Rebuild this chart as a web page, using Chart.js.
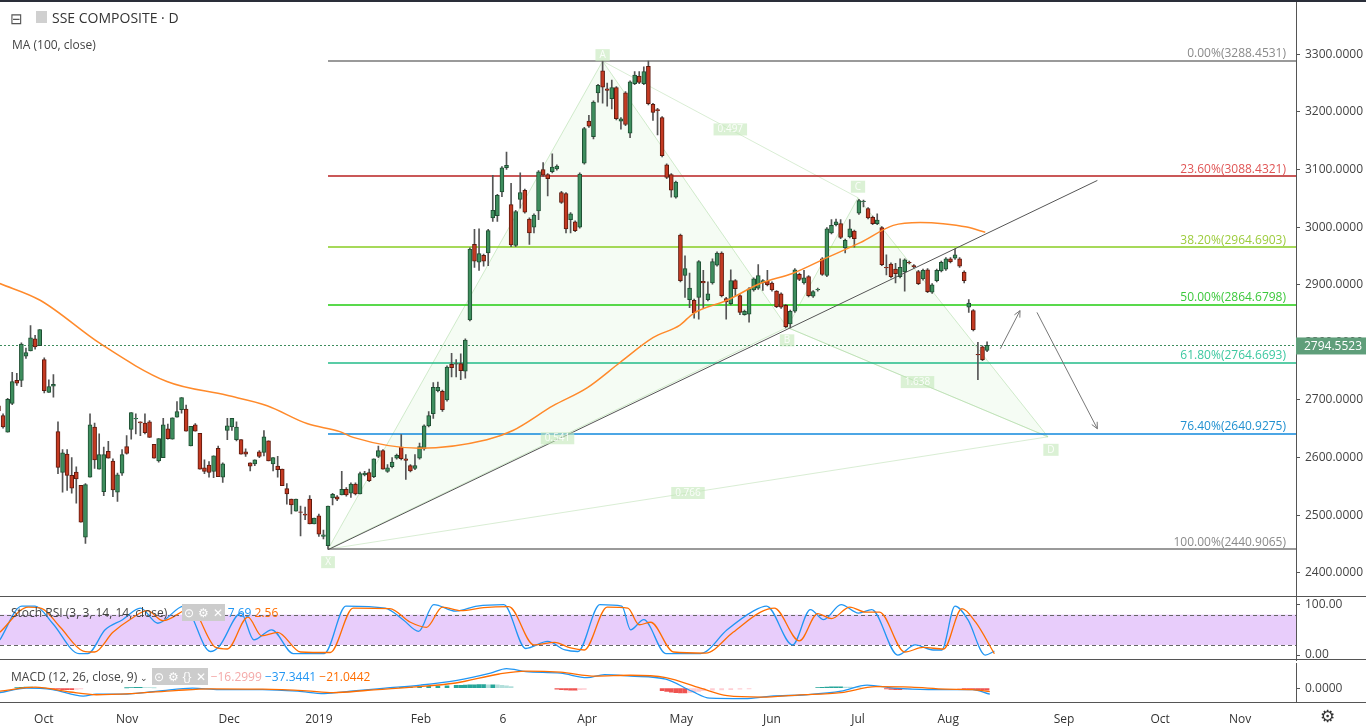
<!DOCTYPE html>
<html><head><meta charset="utf-8">
<script src="https://cdn.jsdelivr.net/npm/chart.js@4.4.1/dist/chart.umd.min.js"></script>
<style>
body{margin:0;background:#fff;overflow:hidden;font-family:"Open Sans",Lato,sans-serif}
#wrap{position:relative;width:1366px;height:726px;overflow:hidden}
canvas{position:absolute;left:0}
.t{position:absolute;white-space:nowrap;color:#333}
.hl{position:absolute;left:0;width:1366px;height:1px;background:#555}
</style></head><body><div id="wrap">
<canvas id="main" width="1366" height="622" style="top:-12px"></canvas>
<canvas id="stoch" width="1366" height="87" style="top:586px"></canvas>
<canvas id="macd" width="1366" height="75" style="top:651px"></canvas>
<div class="hl" style="top:0;height:2px;background:#2a2e39"></div>
<div class="hl" style="top:596px"></div>
<div class="hl" style="top:659px"></div>
<div class="hl" style="top:702px"></div>
<div class="t" style="left:10px;top:8px;font-size:15px;color:#555">⊟</div>
<div class="t" style="left:36px;top:11px;width:11px;height:12px;background:#d0d0d0"></div>
<div class="t" style="left:52px;top:8px;font-size:14px;color:#333">SSE COMPOSITE · D</div>
<div class="t" style="left:12px;top:36px;font-size:12px;color:#444">MA (100, close)</div>
<div class="t" style="left:11px;top:604px;font-size:12px;color:#444">Stoch RSI (3, 3, 14, 14, close) <span style="font-size:9px">⌄</span> <span style="background:#ccc;color:#fff;padding:0 2px">⊙</span><span style="background:#ccc;color:#fff;padding:0 2px">⚙</span><span style="background:#ccc;color:#fff;padding:0 2px">✕</span> <span style="color:#2196f3">7.69</span> <span style="color:#ff6d00">2.56</span></div>
<div class="t" style="left:11px;top:668px;font-size:12px;color:#444">MACD (12, 26, close, 9) <span style="font-size:9px">⌄</span> <span style="background:#ccc;color:#fff;padding:0 2px">⊙</span><span style="background:#ccc;color:#fff;padding:0 2px">⚙</span><span style="background:#ccc;color:#fff;padding:0 2px">{}</span><span style="background:#ccc;color:#fff;padding:0 2px">✕</span> <span style="color:#f4a9a8">−16.2999</span> <span style="color:#2196f3">−37.3441</span> <span style="color:#ff6d00">−21.0442</span></div>
<div class="t" style="left:1320px;top:704px;font-size:17px;color:#333">⚙</div>
</div>
<script>
// ---- candles (open, close, high, low) ----
const opens=[2690,2673,2644,2694,2734,2734,2776,2785,2806,2794,2770,2713,2724,2645,2574,2606,2569,2575,2552,2462,2566,2653,2580,2541,2611,2594,2540,2573,2619,2649,2667,2662,2660,2662,2623,2594,2600,2650,2632,2670,2683,2684,2620,2657,2642,2582,2587,2576,2616,2566,2647,2653,2631,2631,2610,2591,2589,2610,2609,2629,2589,2585,2580,2546,2528,2507,2506,2502,2528,2485,2499,2463,2447,2530,2532,2535,2545,2538,2554,2537,2570,2574,2567,2602,2612,2576,2584,2599,2618,2598,2586,2581,2599,2615,2655,2676,2716,2715,2700,2762,2762,2763,2750,2839,2970,2939,2951,2955,3016,3020,3061,3103,3039,2968,3048,3064,3014,3000,3028,3100,3091,3096,3101,3060,3058,3013,3009,3000,3111,3184,3157,3233,3271,3240,3223,3242,3184,3233,3163,3249,3262,3249,3279,3213,3204,3190,3108,3091,3052,2986,2916,2874,2873,2878,2906,2874,2903,2934,2955,2876,2867,2907,2881,2848,2849,2891,2894,2903,2906,2903,2889,2884,2864,2832,2854,2918,2903,2914,2880,2891,2945,2916,2990,3004,3006,2964,2983,2993,3024,3044,3032,3017,3006,2999,2930,2936,2927,2914,2922,2939,2933,2923,2910,2926,2887,2907,2924,2927,2945,2946,2945,2922,2861,2855,2779,2792,2786];
const closes=[2681,2653,2701,2732,2729,2797,2782,2808,2792,2822,2716,2723,2727,2583,2608,2569,2547,2563,2488,2553,2657,2596,2605,2605,2599,2544,2570,2605,2607,2678,2668,2660,2643,2635,2599,2633,2657,2633,2669,2680,2704,2646,2654,2646,2580,2576,2574,2603,2567,2589,2655,2668,2653,2606,2606,2585,2596,2602,2636,2594,2600,2579,2551,2537,2518,2528,2505,2500,2485,2495,2467,2466,2516,2536,2528,2545,2535,2554,2537,2572,2573,2560,2598,2612,2580,2582,2592,2604,2598,2595,2577,2586,2619,2655,2673,2722,2722,2683,2757,2756,2763,2751,2804,2962,2941,2954,2941,2994,3029,3055,3103,3107,2969,3027,3060,3026,2990,3021,3096,3090,3084,3104,3106,3043,2997,3023,2994,3092,3171,3175,3217,3246,3243,3237,3242,3188,3188,3178,3252,3264,3251,3270,3214,3199,3202,3124,3086,3064,3078,2907,2928,2894,2851,2940,2903,2884,2940,2955,2881,2870,2907,2893,2852,2854,2893,2910,2916,2907,2900,2891,2862,2861,2827,2854,2926,2909,2912,2881,2888,2892,2918,2997,3003,3009,2982,2977,2997,2980,3046,3045,3016,3006,3012,2935,2929,2914,2919,2930,2943,2938,2931,2902,2925,2888,2900,2925,2939,2945,2940,2952,2932,2907,2868,2822,2778,2770,2795];
const highs=[2693,2676,2703,2748,2746,2799,2790,2829,2812,2822,2773,2735,2744,2662,2614,2614,2600,2584,2552,2555,2676,2660,2641,2618,2628,2598,2573,2614,2638,2678,2676,2662,2676,2664,2623,2633,2668,2658,2669,2697,2704,2691,2654,2659,2642,2596,2593,2603,2620,2591,2668,2668,2662,2631,2615,2591,2596,2612,2647,2629,2600,2602,2580,2555,2528,2528,2516,2514,2534,2495,2502,2474,2516,2538,2534,2576,2548,2556,2556,2575,2576,2580,2598,2620,2614,2588,2600,2606,2640,2605,2588,2605,2625,2657,2680,2730,2731,2717,2759,2781,2770,2780,2806,2964,2996,2997,2953,2996,3090,3057,3105,3130,3076,3029,3094,3066,3016,3023,3098,3112,3093,3127,3108,3062,3060,3025,3011,3094,3173,3194,3219,3248,3288,3250,3255,3244,3190,3235,3254,3270,3270,3278,3288,3215,3206,3192,3110,3093,3080,2988,2950,2920,2875,2942,2925,2905,2945,2957,2957,2878,2926,2909,2883,2856,2895,2912,2935,2909,2925,2905,2890,2886,2866,2856,2928,2920,2925,2916,2890,2894,2947,2999,3013,3014,3013,2979,3013,2995,3048,3047,3034,3019,3023,3001,2952,2938,2937,2945,2945,2941,2935,2925,2927,2928,2902,2927,2941,2947,2947,2962,2947,2924,2874,2857,2800,2794,2801];
const lows=[2679,2651,2644,2692,2725,2723,2772,2785,2788,2794,2712,2713,2705,2572,2540,2543,2538,2521,2488,2451,2566,2581,2580,2534,2599,2532,2524,2569,2606,2632,2641,2638,2641,2635,2599,2592,2600,2632,2632,2670,2677,2646,2620,2646,2580,2572,2566,2565,2567,2557,2631,2647,2629,2606,2602,2577,2586,2600,2603,2594,2577,2566,2551,2519,2502,2507,2464,2492,2485,2485,2463,2459,2441,2518,2525,2535,2533,2531,2535,2537,2568,2558,2565,2600,2580,2574,2582,2597,2596,2562,2575,2579,2597,2613,2653,2668,2714,2680,2698,2740,2740,2735,2738,2837,2930,2925,2932,2933,3010,3010,3053,3100,2966,2966,3033,3024,2970,2990,3013,3088,3054,3094,3099,3041,2990,2990,2992,2998,3109,3173,3153,3217,3215,3210,3205,3186,3170,3176,3155,3247,3249,3247,3212,3185,3160,3122,3084,3052,3050,2905,2878,2860,2842,2840,2860,2872,2901,2932,2879,2840,2865,2880,2848,2847,2835,2889,2892,2890,2898,2889,2860,2859,2825,2825,2852,2907,2901,2879,2878,2889,2916,2914,2988,3002,2980,2955,2981,2965,3022,3035,3014,3004,3004,2933,2917,2912,2903,2912,2889,2936,2929,2900,2908,2886,2885,2905,2922,2925,2938,2944,2930,2903,2852,2820,2735,2768,2784];
// ---- MA(100) ----
const maX=[0.3,9.1,22.2,36.8,49.9,58.7,67.4,74.6,77.5,92.1,106.7,112.4,121.2,128.6,135.8,143,148.9,151.8,159.2,166.4,173.6,181,188.3,195.5,201.4,206.4,211.6,215.6];
const maY=[2902,2873,2798,2732,2708,2690,2659,2645,2635,2616,2631,2647,2690,2721,2765,2808,2830,2850,2873,2902,2920,2947,2973,3003,3008,3006,3000,2991];
// ---- axis labels ----
const xTickIdx=[9.9,28.1,50.4,70.0,92.3,110.2,128.6,149.2,169.0,187.8,207.5,232.8,253.8,271.3];
const xTickLabels=["Oct","Nov","Dec","2019","Feb","6","Apr","May","Jun","Jul","Aug","Sep","Oct","Nov"];
const priceTicks=[2400,2500,2600,2700,2800,2900,3000,3100,3200,3300];
// ---- Fibonacci retracement ----
const fibPct=["0.00%","23.60%","38.20%","50.00%","61.80%","76.40%","100.00%"];
const fibVal=[3288.4531,3088.4321,2964.6903,2864.6798,2764.6693,2640.9275,2440.9065];
const fibLine=["#787878","#b82020","#88cc22","#22cc11","#22bb88","#1188dd","#787878"];
const fibText=["#8a8a8a","#e05555","#9ccc3c","#3cc83c","#3cc8a0","#2090d0","#8a8a8a"];
const fibStart=72;
const lastPrice=2794.5523;
// ---- XABCD pattern ----
const patNames=["X","A","B","C","D"];
const patIdx=[72,132,172.3,187.8,229.3];
const patPrice=[2441,3288,2826,3051,2636];
const patRatios=["0.541","0.497","1.638","0.766"];
// trend line and projection arrows
const trendIdx=[72,240.1], trendPrice=[2440,3081];
const arrows=[[218.9,2789,223.2,2855],[226.9,2852,240.1,2650]];
// ---- Stoch RSI ----
const kX=[0.3,5.1,8,11.8,17.6,19.5,23.3,27.1,31,34.8,40.5,46.3,48.2,53,55.8,59.7,64.4,71.2,75.9,84.5,88.4,91.8,95.1,99.9,104.6,110.4,115.2,120,123.8,126.6,131.4,136.2,138.1,141,145.8,153.4,159.2,164.9,167.8,173.5,177.4,180.3,184.1,187.9,190.8,196.5,200.3,204.2,206.1,209,211.8,215.6,217.6];
const kY=[30,97,97,63,3,3,50,70,93,63,97,7,17,83,30,50,3,3,97,93,70,47,100,87,97,100,13,27,10,7,100,97,50,70,3,3,50,87,97,20,90,70,100,83,90,0,20,10,10,97,70,0,7.69];
const dX=[0.3,6.5,9.5,13.5,18.5,21,25,29,32.5,36,42,47.5,50,54.5,57.5,61,66,72.5,77.5,85.5,90,93.5,97,101,106,111.5,117,121.5,125,128,133,137.5,140,142.5,147.5,154.5,160.5,166.5,169.5,175,179,182,186,189.5,192.5,198,202,206.5,210.5,213.5,217.6];
const dY=[45,95,92,55,8,6,45,72,88,68,92,15,12,75,38,45,6,5,93,92,65,55,95,88,94,96,20,25,14,10,95,93,60,65,6,4,45,85,93,28,82,72,95,85,85,6,15,12,92,65,2.56];
// ---- MACD ----
const mX=[0.3,6.1,11.8,18.5,21.4,27.1,34.8,42.4,48.2,57.7,65.4,71.2,76.9,84.5,92.2,99.9,107.5,111,115.2,122.8,128.6,132.4,138.1,145.8,151.5,155.4,163,168.8,176.4,184.1,189.8,195.6,203.2,209,212.8,216.6];
const mY=[-28,0,-9,-50,-37,-37,-19,0,-9,-9,-19,-34,-19,0,19,47,93,121,103,93,65,84,75,56,-19,-62,-65,-50,-41,-19,19,0,-9,-9,-9,-37];
const sX=[0.3,8,15.6,21.4,29,38.6,46.3,57.7,67.3,73.1,80.7,90.3,99.9,109.4,115.2,122.8,130.5,138.1,145.8,153.4,159.2,166.8,174.5,184.1,191.7,199.4,207,212.8,216.6];
const sY=[-19,6,-24,-41,-34,-15,-4,-6,-17,-28,-13,6,32,88,106,99,75,80,65,0,-47,-56,-43,-28,9,6,-6,-9,-21];
const hX=[4,5,6,7,8,9,10,11,12,13,14,15,16,17,18,28,29,30,31,32,33,34,86,88,90,92,94,96,98,100,101,102,103,104,105,106,107,108,109,110,111,112,122,123,124,125,126,127,128,145,146,147,148,149,150,151,152,153,154,156,158,160,162,164,179,180,181,182,183,184,185,186,187,188,194,195,196,197,198,199,210,211,212,213,214,215,216];
const hY=[3,5,6,6,5,3,1,-3,-5,-7,-9,-10,-10,-8,-5,2,4,5,5,4,3,2,3,5,7,9,11,13,15,17,18,19,20,21,22,22,21,21,20,18,14,10,-6,-9,-11,-12,-12,-10,-8,-15,-20,-25,-28,-30,-30,-28,-25,-20,-16,-13,-11,-9,-6,-4,3,5,7,8,8,8,7,6,5,3,-5,-8,-10,-10,-8,-6,-4,-6,-8,-9,-10,-11,-12];

const XMIN=0.33,XMAX=283.5;
const FONT='"Open Sans", Lato, sans-serif';
Chart.defaults.font.family=FONT;
Chart.defaults.animation=false;
function xs(display){return {type:'linear',min:XMIN,max:XMAX,display:display,offset:false,grid:{display:false}};}
function yAxis(min,max,ticks,fmt){return {position:'right',min:min,max:max,
  afterFit:s=>{s.width=70;},
  afterBuildTicks:s=>{s.ticks=ticks.map(v=>({value:v}));},
  border:{display:true,color:'#555',width:1},
  grid:{drawOnChartArea:false,drawTicks:true,tickLength:4,color:'#555'},
  ticks:{color:'#444',font:{size:12},padding:5,callback:v=>fmt(v)}};}
const pts=(X,Y)=>X.map((x,i)=>({x:x,y:Y[i]}));
const green='#3e8e5e', red='#c43a22';

const drawPlugin={id:'draw',
 beforeDatasetsDraw(c){
  const ctx=c.ctx,x=c.scales.x,y=c.scales.y,a=c.chartArea;
  ctx.save();ctx.beginPath();ctx.rect(a.left,a.top,a.right-a.left,a.bottom-a.top);ctx.clip();
  const P=i=>[x.getPixelForValue(patIdx[i]),y.getPixelForValue(patPrice[i])];
  const poly=(ids)=>{ctx.beginPath();ids.forEach((k,j)=>{const p=P(k);j?ctx.lineTo(p[0],p[1]):ctx.moveTo(p[0],p[1]);});ctx.closePath();
    ctx.fillStyle='rgba(220,245,215,0.28)';ctx.fill();ctx.strokeStyle='rgba(165,215,155,0.5)';ctx.lineWidth=1;ctx.stroke();};
  poly([0,1,2]);poly([2,3,4]);
  ctx.strokeStyle='rgba(170,215,160,0.45)';
  [[1,3],[2,4],[0,4]].forEach(([p,q])=>{const u=P(p),v=P(q);ctx.beginPath();ctx.moveTo(u[0],u[1]);ctx.lineTo(v[0],v[1]);ctx.stroke();});
  fibVal.forEach((v,i)=>{const py=Math.round(y.getPixelForValue(v));ctx.strokeStyle=fibLine[i];ctx.lineWidth=1.6;
    ctx.beginPath();ctx.moveTo(x.getPixelForValue(fibStart),py);ctx.lineTo(a.right,py);ctx.stroke();});
  const ly=Math.round(y.getPixelForValue(lastPrice))+0.5;
  ctx.setLineDash([2,2]);ctx.lineWidth=1;ctx.strokeStyle='#3d8c5c';ctx.beginPath();ctx.moveTo(a.left,ly);ctx.lineTo(a.right,ly);ctx.stroke();ctx.setLineDash([]);
  ctx.restore();
 },
 afterDatasetsDraw(c){
  const ctx=c.ctx,x=c.scales.x,y=c.scales.y,a=c.chartArea;
  ctx.save();
  ctx.strokeStyle='#555';ctx.lineWidth=1;ctx.beginPath();
  ctx.moveTo(x.getPixelForValue(trendIdx[0]),y.getPixelForValue(trendPrice[0]));
  ctx.lineTo(x.getPixelForValue(trendIdx[1]),y.getPixelForValue(trendPrice[1]));ctx.stroke();
  ctx.strokeStyle='#777';
  arrows.forEach(r=>{const x1=x.getPixelForValue(r[0]),y1=y.getPixelForValue(r[1]),x2=x.getPixelForValue(r[2]),y2=y.getPixelForValue(r[3]);
    ctx.beginPath();ctx.moveTo(x1,y1);ctx.lineTo(x2,y2);const an=Math.atan2(y2-y1,x2-x1);
    ctx.moveTo(x2,y2);ctx.lineTo(x2-7*Math.cos(an-0.45),y2-7*Math.sin(an-0.45));
    ctx.moveTo(x2,y2);ctx.lineTo(x2-7*Math.cos(an+0.45),y2-7*Math.sin(an+0.45));ctx.stroke();});
  ctx.font='10px '+FONT;ctx.textAlign='center';ctx.textBaseline='middle';
  const box=(t,px,py)=>{const w=ctx.measureText(t).width+8;ctx.fillStyle='rgba(195,232,185,0.6)';ctx.fillRect(px-w/2,py-6,w,12);ctx.fillStyle='rgba(255,255,255,0.9)';ctx.fillText(t,px,py);};
  const P=i=>[x.getPixelForValue(patIdx[i]),y.getPixelForValue(patPrice[i])];
  const off=[13,-6,13,-11,13];
  patNames.forEach((n,i)=>{const p=P(i);box(n,p[0]+(i==4?3:0),p[1]+off[i]);});
  const pairs=[[0,2],[1,3],[2,4],[0,4]];
  pairs.forEach(([p,q],i)=>{const u=P(p),v=P(q);box(patRatios[i],(u[0]+v[0])/2,(u[1]+v[1])/2);});
  ctx.font='12px '+FONT;ctx.textAlign='right';ctx.textBaseline='bottom';
  fibVal.forEach((v,i)=>{ctx.fillStyle=fibText[i];ctx.fillText(fibPct[i]+'('+v.toFixed(4)+')',a.right-10,y.getPixelForValue(v)-1);});
  const ly=y.getPixelForValue(lastPrice);
  ctx.fillStyle='#5f9e7a';ctx.fillRect(a.right,ly-8,70,17);
  ctx.fillStyle='#fff';ctx.textAlign='left';ctx.textBaseline='middle';ctx.fillText(lastPrice.toFixed(4),a.right+8,ly+1);
  ctx.restore();
 }};

new Chart(document.getElementById('main'),{type:'bar',
 data:{datasets:[
  {type:'line',data:pts(maX,maY),borderColor:'#ff8a2b',borderWidth:1.5,pointRadius:0,cubicInterpolationMode:'monotone',order:0},
  {data:opens.map((o,i)=>({x:i,y:[lows[i],highs[i]]})),backgroundColor:'#555',barThickness:1,grouped:false,order:2},
  {data:opens.map((o,i)=>({x:i,y:[o,closes[i]===o?o+1:closes[i]]})),backgroundColor:opens.map((o,i)=>closes[i]>=o?green:red),
   borderColor:opens.map((o,i)=>closes[i]>=o?'#1f4f33':'#5e1a0e'),borderWidth:1,borderSkipped:false,barThickness:4,grouped:false,order:1}
 ]},
 options:{responsive:false,devicePixelRatio:1,layout:{padding:0},plugins:{legend:{display:false},tooltip:{enabled:false}},
  scales:{x:xs(false),y:yAxis(2356.6,3393.8,priceTicks,v=>v.toFixed(4))}},
 plugins:[drawPlugin]});

const bandPlugin={id:'band',beforeDatasetsDraw(c){const ctx=c.ctx,y=c.scales.y,a=c.chartArea;
  const y1=y.getPixelForValue(80),y2=y.getPixelForValue(20);ctx.save();ctx.fillStyle='#e8cdfb';ctx.fillRect(a.left,y1,a.right-a.left,y2-y1);
  ctx.strokeStyle='#666';ctx.setLineDash([4,3]);ctx.lineWidth=1;[y1,y2].forEach(v=>{ctx.beginPath();ctx.moveTo(a.left,Math.round(v)+0.5);ctx.lineTo(a.right,Math.round(v)+0.5);ctx.stroke();});ctx.restore();}};
new Chart(document.getElementById('stoch'),{type:'line',
 data:{datasets:[
  {data:pts(dX,dY),borderColor:'#ff6d00',borderWidth:1.3,pointRadius:0,cubicInterpolationMode:'monotone'},
  {data:pts(kX,kY),borderColor:'#2196f3',borderWidth:1.3,pointRadius:0,cubicInterpolationMode:'monotone'}]},
 options:{responsive:false,devicePixelRatio:1,layout:{padding:0},plugins:{legend:{display:false},tooltip:{enabled:false}},
  scales:{x:xs(false),y:yAxis(-11.4,112.6,[0,100],v=>v.toFixed(2))}},plugins:[bandPlugin]});

const xAx=xs(true);
Object.assign(xAx,{afterFit:s=>{s.height=24;},afterBuildTicks:s=>{s.ticks=xTickIdx.map(v=>({value:v}));},
 border:{display:false},ticks:{autoSkip:false,maxRotation:0,color:'#333',font:{size:12},padding:2,callback:(v,i)=>xTickLabels[i]}});
new Chart(document.getElementById('macd'),{type:'bar',
 data:{datasets:[
  {type:'line',data:pts(sX,sY),borderColor:'#ff6d00',borderWidth:1.3,pointRadius:0,cubicInterpolationMode:'monotone',order:0},
  {type:'line',data:pts(mX,mY),borderColor:'#2196f3',borderWidth:1.3,pointRadius:0,cubicInterpolationMode:'monotone',order:0},
  {data:pts(hX,hY),barThickness:4,order:1,backgroundColor:hY.map((v,i)=>{const p=i?hY[i-1]:0;return v>=0?(v>=p?'#26a69a':'#b2dfdb'):(v<=p?'#ef5350':'#ffcdd2');})}]},
 options:{responsive:false,devicePixelRatio:1,layout:{padding:0},plugins:{legend:{display:false},tooltip:{enabled:false}},
  scales:{x:xAx,y:yAxis(-86,155,[0],v=>v.toFixed(4))}}});
</script></body></html>
